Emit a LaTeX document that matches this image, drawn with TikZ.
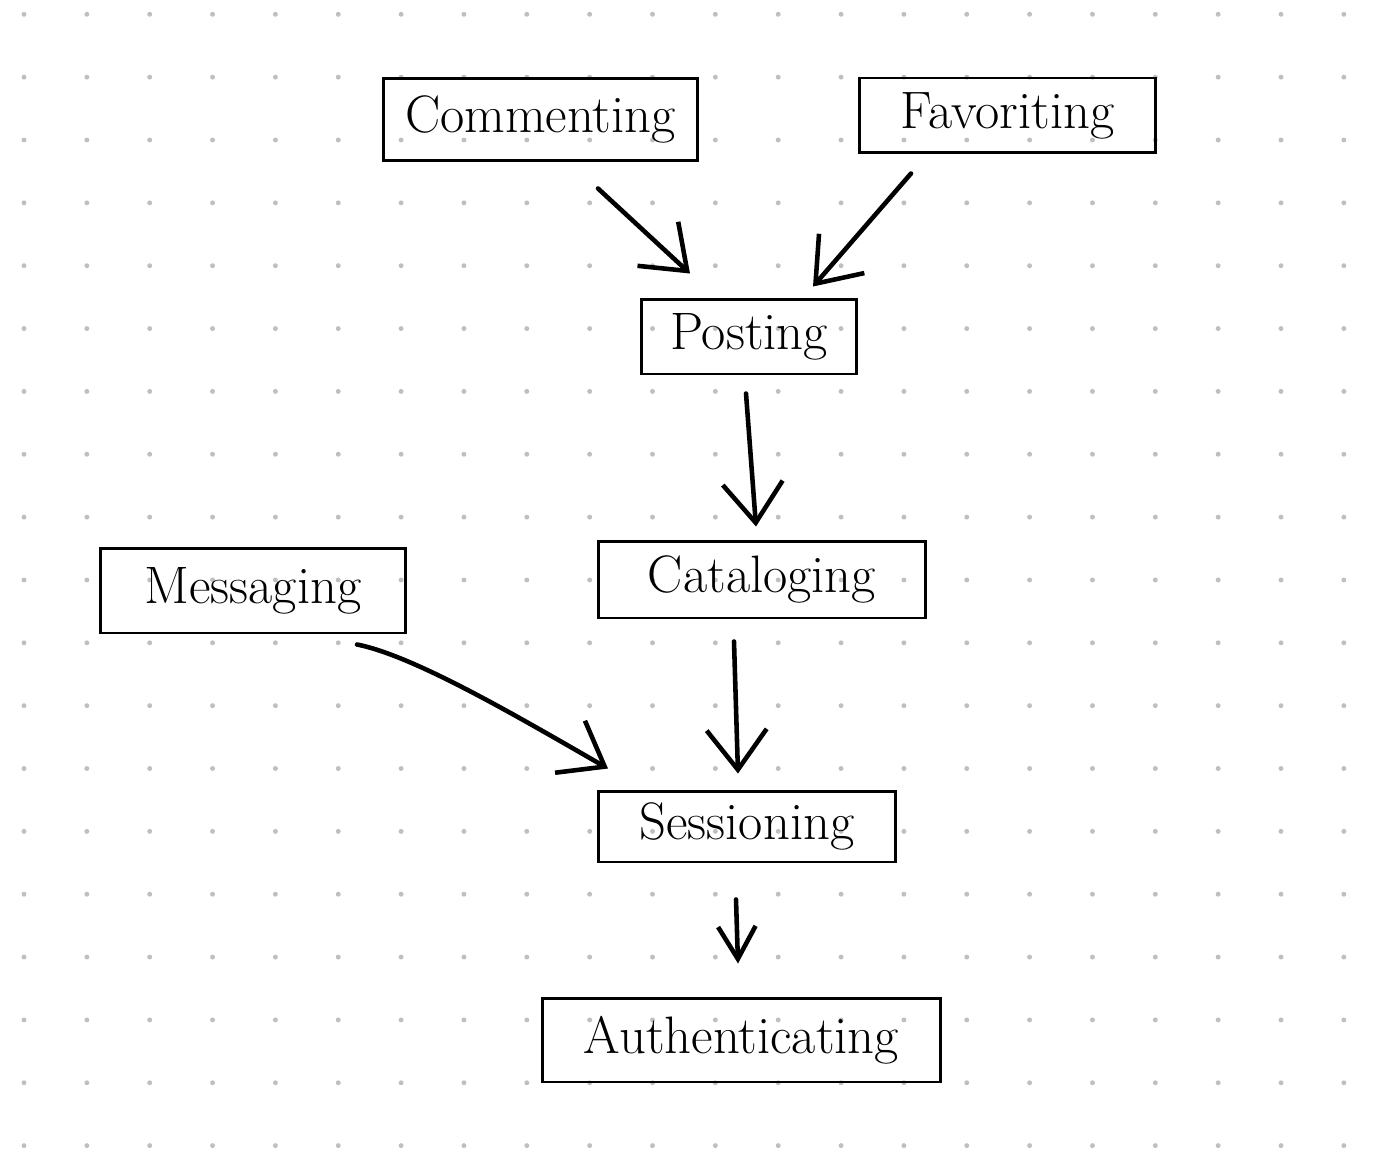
\documentclass[tikz,border=0pt]{standalone}
\usepackage{tikz}
\usetikzlibrary{positioning,calc,arrows.meta}

\begin{document}
\begin{tikzpicture}[x=0.02cm,y=-0.02cm,
    box/.style={draw, rectangle, line width=1.7pt, inner sep=0pt, font=\fontsize{30}{34}\selectfont},
    arr/.style={line width=2.6pt, line cap=round, -{Straight Barb[length=0.8cm,width=1.2cm]}}]
            % dotted paper
            \fill[white] (0,0) rectangle (1383,1159);
            \useasboundingbox (0,0) rectangle (1383,1159);
            \foreach \i in {0,...,21}
                \foreach \j in {0,...,18}
                    \fill[gray!50] (24+62.85*\i,14.3+62.85*\j) circle (1.4pt);

            \node[box, minimum width=6.3cm, minimum height=1.66cm] (commenting) at (540.5,119.5) {Commenting};
            \node[box, minimum width=5.94cm, minimum height=1.5cm] (favoriting) at (1007.5,115.5) {Favoriting};
            \node[box, minimum width=4.32cm, minimum height=1.5cm] (posting) at (749,336.5) {Posting};
            \node[box, minimum width=6.12cm, minimum height=1.7cm] (messaging) at (253,590.5) {Messaging};
            \node[box, minimum width=6.56cm, minimum height=1.54cm] (cataloging) at (762,579.5) {Cataloging};
            \node[box, minimum width=5.96cm, minimum height=1.42cm] (sessioning) at (747,826.5) {Sessioning};
            \node[box, minimum width=7.98cm, minimum height=1.68cm] (authenticating) at (741.5,1040) {Authenticating};

            \draw[arr]($(commenting.south)+(57.5,26)$)--($(posting.north)+(-59,-24)$);
            \draw[arr]($(favoriting.south)+(-96.5,19)$)--($(posting.north)+(64,-11)$);
            \draw[arr]($(posting.south)+(-3,18)$)--($(cataloging.north)+(-6,-13)$);
            \draw[arr]($(messaging.south)+(104,10)$) .. controls (415,656) and (520,718) .. ($(sessioning.north)+(-139,-21)$);
            \draw[arr]($(cataloging.south)+(-28,22)$)--($(sessioning.north)+(-9,-16)$);
            \draw[arr, -{Straight Barb[length=0.65cm,width=0.75cm]}]($(sessioning.south)+(-11,36)$)--($(authenticating.north)+(-3.5,-33)$);
        \end{tikzpicture}
\end{document}
